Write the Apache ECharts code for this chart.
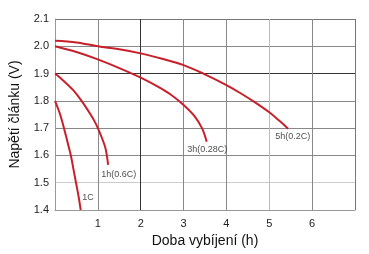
<!DOCTYPE html>
<html>
<head>
    <meta charset="utf-8">
    <title>Vybíjecí křivky</title>
    <script src="https://cdn.jsdelivr.net/npm/echarts@6/dist/echarts.min.js"></script>
    <style>
        html, body { margin: 0; padding: 0; background: #fff; }
        #chart { width: 369px; height: 254px; }
    </style>
</head>
<body>
    <div id="chart"></div>
    <script>
        // discharge curves [hours, volts]
        var curve1C = [[0, 1.8], [0.06, 1.776], [0.12, 1.75], [0.21, 1.7], [0.29, 1.65], [0.37, 1.6], [0.43, 1.55], [0.49, 1.5], [0.55, 1.45], [0.6, 1.4]];
        var curve1h = [[0, 1.9], [0.19, 1.875], [0.42, 1.84], [0.62, 1.8], [0.83, 1.75], [0.93, 1.723], [1.0, 1.7], [1.1, 1.662], [1.18, 1.625], [1.24, 1.565]];
        var curve3h = [[0, 2.0], [0.5, 1.979], [1, 1.952], [1.5, 1.92], [2, 1.885], [2.4, 1.852], [2.69, 1.824], [3, 1.785], [3.25, 1.745], [3.43, 1.7], [3.54, 1.65]];
        var curve5h = [[0, 2.02], [0.5, 2.014], [1, 2.0], [1.5, 1.989], [2, 1.974], [2.5, 1.954], [3, 1.931], [3.46, 1.9], [4, 1.858], [4.35, 1.826], [4.65, 1.796], [5, 1.758], [5.25, 1.725], [5.44, 1.698]];

        var curveNames = ['1C', '1h(0.6C)', '3h(0.28C)', '5h(0.2C)'];
        var labelPos = [[0.77, 1.445], [1.49, 1.529], [3.55, 1.622], [5.55, 1.67]];

        var xColors = ['#888', '#888', '#333', '#888', '#888', '#bbb', '#888', '#777'];
        var yColors = ['#888', '#ccc', '#888', '#888', '#888', '#333', '#888', '#777'];

        var red = '#c8202a';
        var chart = echarts.init(document.getElementById('chart'));

        var series = [curve1C, curve1h, curve3h, curve5h].map(function(d, i) {
            return {
                name: curveNames[i],
                type: 'line',
                smooth: 0.35,
                symbol: 'none',
                data: d,
                lineStyle: { color: red, width: 2 }
            };
        });
        series.push({
            type: 'scatter',
            symbolSize: 0,
            data: labelPos.map(function(p, i) { return { value: p, name: curveNames[i] }; }),
            label: {
                show: true,
                position: 'inside',
                formatter: '{b}',
                color: '#222',
                fontSize: 9,
                fontFamily: 'Liberation Sans'
            }
        });

        chart.setOption({
            animation: false,
            grid: { left: 55, right: 14, top: 19, bottom: 44 },
            xAxis: {
                type: 'value',
                min: 0,
                max: 7,
                interval: 1,
                name: 'Doba vybíjení (h)',
                nameLocation: 'middle',
                nameGap: 24,
                nameTextStyle: { fontSize: 14, color: '#111', fontFamily: 'Liberation Sans' },
                axisLine: { lineStyle: { color: '#999' } },
                axisTick: { show: false },
                axisLabel: {
                    color: '#222',
                    fontSize: 11,
                    fontFamily: 'Liberation Sans',
                    margin: 8,
                    formatter: function(v) { return (v === 0 || v === 7) ? '' : v; }
                },
                splitLine: { show: true, lineStyle: { color: xColors, width: 1 } }
            },
            yAxis: {
                type: 'value',
                min: 1.4,
                max: 2.1,
                interval: 0.1,
                name: 'Napětí článku (V)',
                nameLocation: 'middle',
                nameGap: 33,
                nameTextStyle: { fontSize: 14, color: '#111', fontFamily: 'Liberation Sans' },
                axisLine: { show: true, lineStyle: { color: '#999' } },
                axisTick: { show: false },
                axisLabel: {
                    color: '#222',
                    fontSize: 11,
                    fontFamily: 'Liberation Sans',
                    margin: 6,
                    formatter: function(v) { return v.toFixed(1); }
                },
                splitLine: { show: true, lineStyle: { color: yColors, width: 1 } }
            },
            series: series
        });
    </script>
</body>
</html>
